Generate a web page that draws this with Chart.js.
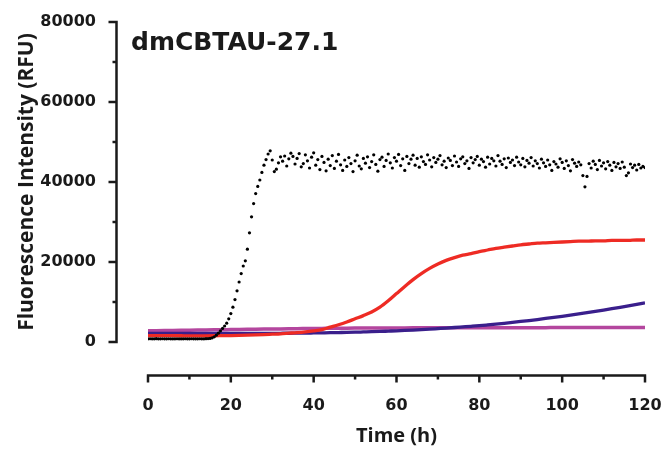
<!DOCTYPE html>
<html>
<head>
<meta charset="utf-8">
<script src="https://cdn.jsdelivr.net/npm/chart.js@4.4.0/dist/chart.umd.min.js"></script>
<style>
  html, body { margin: 0; padding: 0; background: #fff; }
</style>
</head>
<body>
<canvas id="chart" width="666" height="449"></canvas>
<script>
// sample times (h)
const hoursFine = Array.from({length: 241}, (_, i) => i * 0.5);   // black trace, every 30 min
const hoursCoarse = Array.from({length: 61}, (_, i) => i * 2);    // smooth traces, every 2 h

// black: dmCBTAU-27.1 (dots), 0 .. 120 h every 0.5 h
const blackRFU = [
  800, 810, 790, 800, 820, 800, 790, 810, 800, 800,
  810, 800, 790, 800, 810, 800, 800, 790, 810, 800,
  800, 810, 800, 790, 800, 810, 800, 800, 820, 850,
  900, 1050, 1300, 1700, 2200, 2800, 3400, 4000, 4700, 5800,
  7100, 8700, 10600, 12800, 15000, 17100, 19000, 20300, 23200, 27300,
  31300, 34600, 37100, 38900, 40500, 42400, 44200, 45600, 47000, 47800,
  45500, 42600, 43200, 44800, 46300, 45200, 46500, 44000, 45800, 47200,
  46400, 44500, 45900, 47100, 43800, 44600, 46800, 45300, 43500, 46200,
  47300, 44200, 45600, 43100, 46400, 44900, 42800, 45700, 44100, 46600,
  43400, 45200, 46900, 44300, 42900, 45500, 43900, 46100, 44600, 42600,
  45300, 46700, 44000, 43300, 45900, 44700, 46300, 43600, 45100, 46800,
  44400, 42700, 45600, 46200, 43900, 45400, 47000, 44800, 43500, 46100,
  45200, 46900, 44100, 45800, 42900, 46400, 44600, 45700, 46700, 44200,
  45900, 43700, 46300, 45100, 44400, 46800, 45500, 43800, 46100, 44900,
  45700, 46600, 44300, 45200, 43600, 46000, 45400, 44100, 46500, 45000,
  43900, 45800, 46300, 44600, 45300, 43400, 46100, 44800, 45600, 46400,
  44200, 45700, 45100, 43700, 46200, 44500, 45900, 45300, 44000, 46600,
  45200, 44400, 45800, 43600, 46000, 44900, 45500, 44100, 46200, 45000,
  44300, 45900, 43800, 45400, 44700, 46100, 44000, 45300, 44600, 43500,
  45700, 44800, 43900, 45500, 44300, 42900, 45100, 44500, 43700, 45800,
  44900, 43400, 45300, 44100, 42800, 45600, 44700, 43900, 45000, 44300,
  41600, 38800, 41400, 44600, 43500, 45200, 44400, 43100, 45400, 44000,
  44800, 43300, 45100, 44200, 42900, 44900, 43800, 44600, 43400, 45000,
  43700, 41600, 42300, 44500, 43600, 44200, 43000, 44400, 43500, 43900,
  43600
];

// smooth traces, 0 .. 120 h every 2 h
const redRFU = [
  1600, 1590, 1580, 1570, 1560, 1550, 1550, 1550, 1560, 1580,
  1600, 1640, 1700, 1770, 1850, 1950, 2050, 2200, 2350, 2550,
  2800, 3100, 3700, 4300, 5000, 5800, 6600, 7500, 8700, 10300,
  12100, 13900, 15600, 17100, 18400, 19500, 20400, 21100, 21700, 22100,
  22600, 23000, 23400, 23700, 24000, 24300, 24500, 24700, 24800, 24900,
  25000, 25100, 25200, 25200, 25300, 25300, 25400, 25400, 25400, 25500,
  25500
];
const indigoRFU = [
  2150, 2150, 2140, 2140, 2130, 2130, 2130, 2120, 2120, 2120,
  2130, 2130, 2140, 2150, 2160, 2170, 2180, 2190, 2210, 2230,
  2260, 2290, 2320, 2360, 2400, 2450, 2510, 2570, 2640, 2720,
  2800, 2890, 2990, 3100, 3220, 3350, 3480, 3620, 3770, 3920,
  4080, 4270, 4470, 4680, 4900, 5130, 5370, 5620, 5880, 6150,
  6430, 6720, 7020, 7330, 7650, 7980, 8320, 8670, 9030, 9400,
  9780
];
const magentaRFU = [
  2800, 2830, 2860, 2890, 2920, 2950, 2980, 3010, 3040, 3070,
  3100, 3130, 3160, 3190, 3220, 3250, 3280, 3310, 3340, 3360,
  3380, 3400, 3420, 3440, 3460, 3470, 3480, 3490, 3500, 3510,
  3520, 3530, 3540, 3550, 3550, 3560, 3560, 3570, 3570, 3570,
  3580, 3580, 3580, 3580, 3590, 3590, 3590, 3590, 3590, 3600,
  3600, 3600, 3600, 3600, 3600, 3600, 3600, 3600, 3600, 3600,
  3600
];

const xMajor = [0, 20, 40, 60, 80, 100, 120];
const xMinor = [10, 30, 50, 70, 90, 110];
const yMajor = [0, 20000, 40000, 60000, 80000];
const yMinor = [10000, 30000, 50000, 70000];

const panelTitle = 'dmCBTAU-27.1';
const tickFont = '"DejaVu Sans", "Open Sans", sans-serif';
const titleFont = '"Open Sans", "DejaVu Sans", sans-serif';

function toPoints(times, values) {
  return values.map((v, i) => ({x: times[i], y: v}));
}

// Prism-style detached axes drawn from the chart's own scales
const offsetAxes = {
  id: 'offsetAxes',
  afterDraw(chart) {
    const {ctx, scales: {x, y}} = chart;
    ctx.save();
    ctx.strokeStyle = '#1a1a1a';
    ctx.lineWidth = 2.5;

    // y axis
    const ax = 116.5;
    const yTop = y.getPixelForValue(yMajor[yMajor.length - 1]);
    const yBot = y.getPixelForValue(yMajor[0]);
    ctx.beginPath();
    ctx.moveTo(ax, yTop - 1.2);
    ctx.lineTo(ax, yBot + 1.2);
    yMajor.forEach(v => {
      const p = y.getPixelForValue(v);
      ctx.moveTo(ax, p);
      ctx.lineTo(ax - 8, p);
    });
    yMinor.forEach(v => {
      const p = y.getPixelForValue(v);
      ctx.moveTo(ax, p);
      ctx.lineTo(ax - 4, p);
    });
    ctx.stroke();

    // x axis
    const ay = 375.5;
    const xL = x.getPixelForValue(xMajor[0]);
    const xR = x.getPixelForValue(xMajor[xMajor.length - 1]);
    ctx.beginPath();
    ctx.moveTo(xL - 1.2, ay);
    ctx.lineTo(xR + 1.2, ay);
    xMajor.forEach(v => {
      const p = x.getPixelForValue(v);
      ctx.moveTo(p, ay);
      ctx.lineTo(p, ay + 7);
    });
    xMinor.forEach(v => {
      const p = x.getPixelForValue(v);
      ctx.moveTo(p, ay);
      ctx.lineTo(p, ay + 4);
    });
    ctx.stroke();

    // panel title
    ctx.fillStyle = '#1a1a1a';
    ctx.font = 'bold 25px ' + tickFont;
    ctx.textAlign = 'left';
    ctx.textBaseline = 'alphabetic';
    ctx.fillText(panelTitle, 131, 50);
    ctx.restore();
  }
};

const lineStyle = (color, width) => ({
  borderColor: color,
  backgroundColor: color,
  borderWidth: width,
  pointRadius: 0,
  pointHoverRadius: 0,
  cubicInterpolationMode: 'monotone',
  fill: false
});

new Chart(document.getElementById('chart'), {
  type: 'line',
  data: {
    datasets: [
      {
        label: 'dmCBTAU-27.1',
        data: toPoints(hoursFine, blackRFU),
        showLine: false,
        pointRadius: 1.6,
        pointHoverRadius: 0,
        pointBorderWidth: 0,
        pointBackgroundColor: '#000000',
        borderColor: '#000000'
      },
      Object.assign({label: 'red', data: toPoints(hoursCoarse, redRFU)}, lineStyle('#ee2b24', 3.3)),
      Object.assign({label: 'indigo', data: toPoints(hoursCoarse, indigoRFU)}, lineStyle('#3a1f8c', 3.3)),
      Object.assign({label: 'magenta', data: toPoints(hoursCoarse, magentaRFU)}, lineStyle('#b4469e', 3.5))
    ]
  },
  options: {
    responsive: false,
    animation: false,
    layout: { padding: { top: 22, right: 21, left: 0, bottom: 0 } },
    plugins: {
      legend: { display: false },
      tooltip: { enabled: false }
    },
    scales: {
      x: {
        type: 'linear',
        min: 0,
        max: 120,
        grid: { display: false },
        border: { display: false },
        afterBuildTicks: s => { s.ticks = xMajor.map(v => ({value: v})); },
        ticks: {
          color: '#1a1a1a',
          padding: 46,
          maxRotation: 0,
          font: { family: tickFont, size: 16, weight: 'bold' }
        },
        title: {
          display: true,
          text: 'Time (h)',
          color: '#1a1a1a',
          padding: { top: 0, bottom: 1 },
          font: { family: titleFont, size: 20, weight: 'bold' }
        },
        afterFit: s => { s.height = 107; s.paddingLeft = 0; s.paddingRight = 0; }
      },
      y: {
        min: 0,
        max: 80000,
        grid: { display: false },
        border: { display: false },
        afterBuildTicks: s => { s.ticks = yMajor.map(v => ({value: v})); },
        ticks: {
          color: '#1a1a1a',
          padding: 44,
          callback: v => String(v),
          font: { family: tickFont, size: 16, weight: 'bold' }
        },
        title: {
          display: true,
          text: 'Fluorescence Intensity (RFU)',
          color: '#1a1a1a',
          padding: { top: 14, bottom: 0 },
          font: { family: titleFont, size: 21, weight: 'bold' }
        },
        afterFit: s => { s.width = 148; s.paddingTop = 0; s.paddingBottom = 0; }
      }
    }
  },
  plugins: [offsetAxes]
});
</script>
</body>
</html>
